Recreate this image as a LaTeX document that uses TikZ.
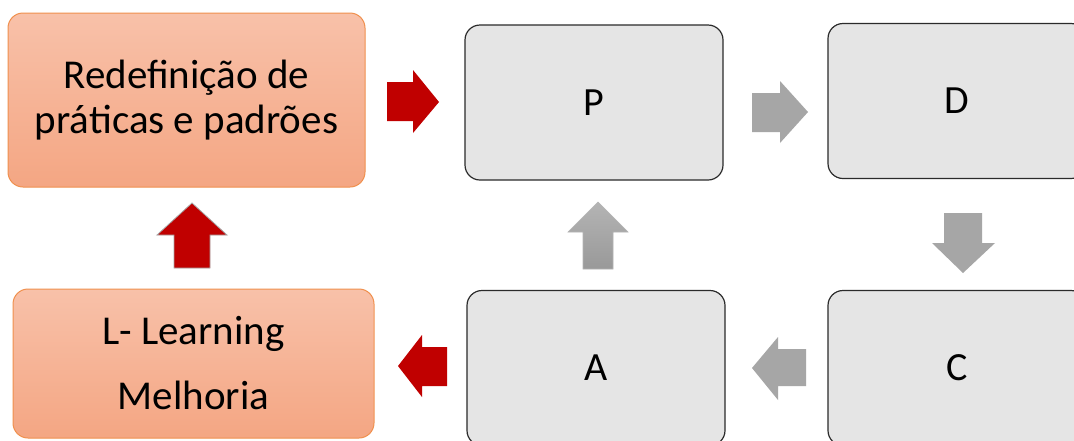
\documentclass[tikz,border=0pt]{standalone}
\usepackage{fontspec}
\setmainfont{Carlito}
\definecolor{otop}{HTML}{F8C1A9}
\definecolor{obot}{HTML}{F4A683}
\definecolor{oline}{HTML}{F0904E}
\definecolor{gfill}{HTML}{E5E5E5}
\definecolor{gline}{HTML}{2B2B2B}
\definecolor{ared}{HTML}{C00000}
\definecolor{agray}{HTML}{A6A6A6}
\definecolor{uptop}{HTML}{B4B4B4}
\definecolor{upbot}{HTML}{999999}
\tikzset{
  obox/.style={rectangle, rounded corners=15pt, draw=oline, line width=1pt, top color=otop, bottom color=obot, align=center, inner sep=0pt},
  gbox/.style={rectangle, rounded corners=15pt, draw=gline, line width=1.2pt, fill=gfill, inner sep=0pt, minimum width=258pt, minimum height=155pt, font=\fontsize{40}{48}\selectfont},
  redarrow/.style={fill=ared, draw=none},
  grayarrow/.style={fill=agray, draw=none},
}
\begin{document}
\begin{tikzpicture}[x=1pt,y=-1pt]
\useasboundingbox (0,0) rectangle (1074,440);
\clip (0,0) rectangle (1074,440);
\fill[white] (0,0) rectangle (1074,440);
% boxes
\node[obox, minimum width=357pt, minimum height=174pt, font=\fontsize{41}{45}\selectfont] (R) at (186.5,100)
  {Redefinição de\\ práticas e padrões};
\node[obox, minimum width=361pt, minimum height=149pt, font=\fontsize{41}{65}\selectfont] (L) at (193.5,363.5)
  {L- Learning\\ Melhoria};
\node[gbox] (P) at (594,102.5) {P};
\node[gbox] (D) at (957,101) {D};
\node[gbox] (A) at (596,368) {A};
\node[gbox] (C) at (957,368) {C};
% block arrows
% R -> P (red, right)
\fill[redarrow] (387,82) -- (413,82) -- (413,70) -- (439,102) -- (413,133) -- (413,121) -- (387,121) -- cycle;
% P -> D (gray, right)
\fill[grayarrow] (752,93) -- (780,93) -- (780,81) -- (808,112) -- (780,143) -- (780,132) -- (752,132) -- cycle;
% D -> C (gray, down)
\fill[grayarrow] (944,213) -- (982,213) -- (982,243) -- (995,243) -- (963,273) -- (932,243) -- (944,243) -- cycle;
% C -> A (gray, left)
\fill[grayarrow] (806,349) -- (778,349) -- (778,337) -- (752,368) -- (778,400) -- (778,386) -- (806,386) -- cycle;
% A -> P (gray, up, gradient)
\shade[top color=uptop, bottom color=upbot, draw=uptop, line width=0.6pt]
  (583,269) -- (583,232) -- (568,232) -- (598,202) -- (628,232) -- (613,232) -- (613,269) -- cycle;
% A -> L (red, left)
\fill[redarrow] (447,347) -- (422,347) -- (422,335) -- (398,366) -- (422,397) -- (422,386) -- (447,386) -- cycle;
% L -> R (red, up)
\filldraw[fill=ared, draw=agray, line width=0.8pt]
  (174,268) -- (174,235) -- (157,235) -- (192,203) -- (227,235) -- (210,235) -- (210,268) -- cycle;
\end{tikzpicture}
\end{document}
